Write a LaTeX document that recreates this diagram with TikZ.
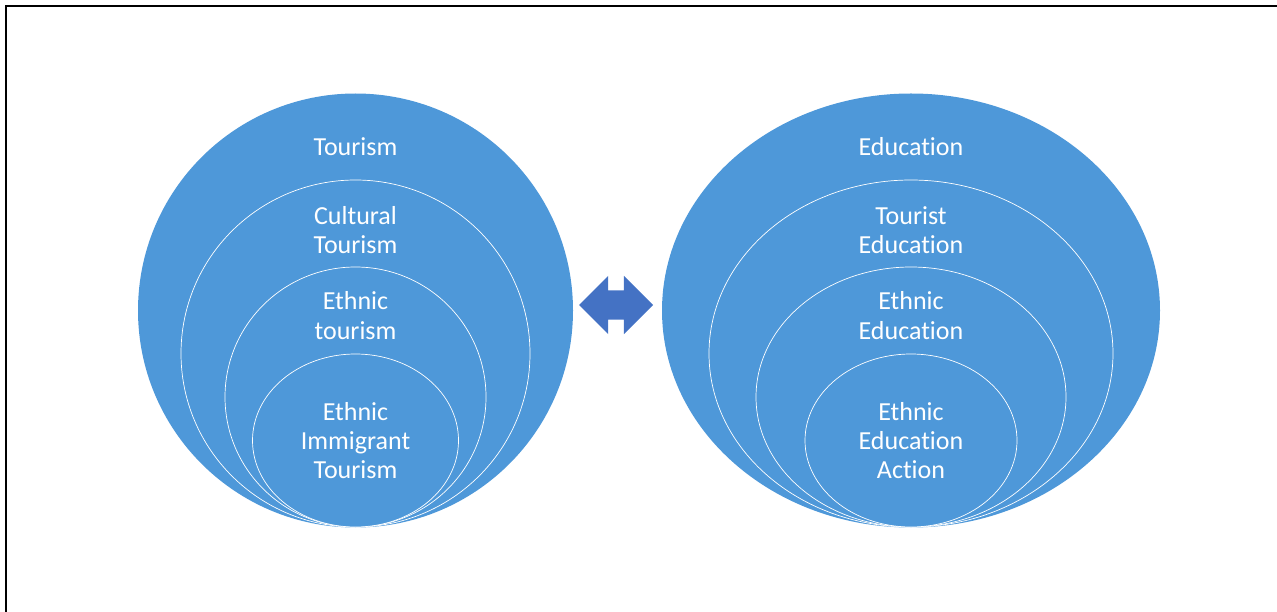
\documentclass[tikz,border=0pt]{standalone}
\usepackage{fontspec}
\setmainfont{Carlito}[Ligatures={NoCommon}]
\usetikzlibrary{shapes.geometric, shapes.arrows}
\definecolor{ringblue}{RGB}{78,152,217}
\definecolor{arrowblue}{RGB}{68,114,196}

\begin{document}
\begin{tikzpicture}[x=1pt, y=-1pt,
    ring/.style={ellipse, fill=ringblue, draw=white, line width=0.7pt, inner sep=0pt},
    lbl/.style={text=white, anchor=base, inner sep=0pt, align=center,
        font=\fontsize{26}{29}\selectfont}]
    \useasboundingbox (0,0) rectangle (1277,612);
    \draw[line width=2pt] (6,612) -- (6,6) -- (1277,6);
    % tourism rings
    \node[ring, draw=none, minimum width=435pt, minimum height=434pt] (tour1) at (355.5,310.5) {};
    \node[ring, minimum width=349pt, minimum height=347pt] (tour2) at (355.5,353.5) {};
    \node[ring, minimum width=261pt, minimum height=260pt] (tour3) at (355.5,397) {};
    \node[ring, minimum width=206pt, minimum height=173pt] (tour4) at (355.5,440.5) {};
    \node[lbl] (tourtxt1) at (355.5,156) {Tourism};
    \node[lbl] (tourtxt2) at (355.5,254) {Cultural\\Tourism};
    \node[lbl] (tourtxt3) at (355.5,339) {Ethnic\\tourism};
    \node[lbl] (tourtxt4) at (355.5,478) {Ethnic\\Immigrant\\Tourism};
    % education rings
    \node[ring, draw=none, minimum width=498pt, minimum height=434pt] (edu1) at (911,310.5) {};
    \node[ring, minimum width=404pt, minimum height=347pt] (edu2) at (911,353.5) {};
    \node[ring, minimum width=310pt, minimum height=260pt] (edu3) at (911,397) {};
    \node[ring, minimum width=212pt, minimum height=173pt] (edu4) at (911,440.5) {};
    \node[lbl] (edutxt1) at (911,156) {Education};
    \node[lbl] (edutxt2) at (911,254) {Tourist\\Education};
    \node[lbl] (edutxt3) at (911,339) {Ethnic\\Education};
    \node[lbl] (edutxt4) at (911,478) {Ethnic\\Education\\Action};
    % two-way arrow between them
    \node[double arrow, fill=arrowblue, inner xsep=0pt, inner ysep=14.5pt,
        minimum height=74pt, double arrow head extend=14.5pt] (link) at (616,305) {};
\end{tikzpicture}
\end{document}
